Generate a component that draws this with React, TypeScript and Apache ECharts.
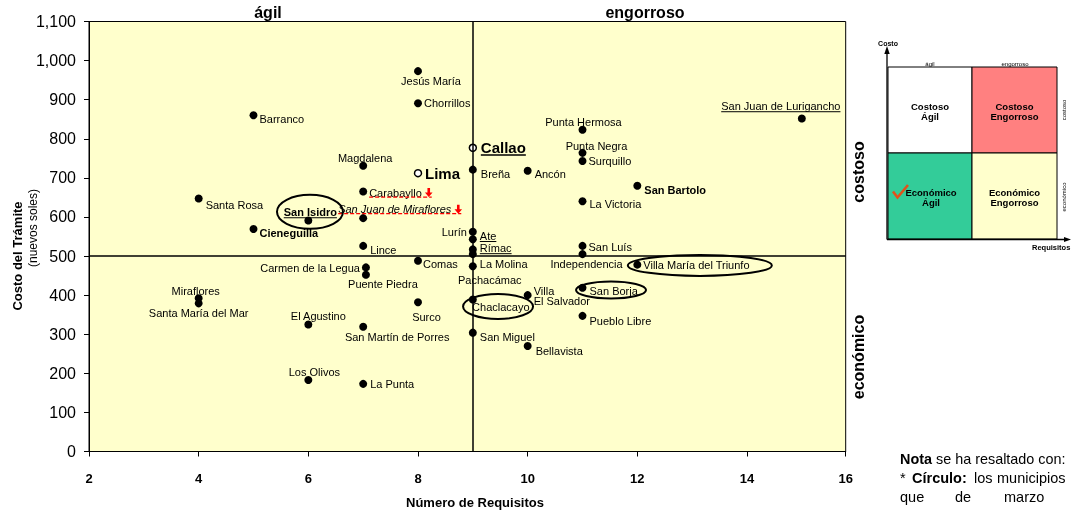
import React, { useEffect, useRef } from "react";
import * as echarts from "echarts";

const FONT = '"Liberation Sans", Arial, sans-serif';

// ---- data ----
const NAMES = [
  "Jesús María", "Chorrillos", "Barranco", "Magdalena", "Carabayllo", "Santa Rosa",
  "San Isidro", "San Juan de Miraflores", "Cieneguilla", "Lince", "Lurín", "Ate",
  "Rímac", "Pachacámac", "La Molina", "Chaclacayo", "San Miguel", "Comas",
  "Carmen de la Legua", "Puente Piedra", "Miraflores", "Santa María del Mar",
  "El Agustino", "San Martín de Porres", "Surco", "Los Olivos", "La Punta",
  "Breña", "Ancón", "Punta Hermosa", "Punta Negra", "Surquillo", "San Bartolo",
  "La Victoria", "San Juan de Lurigancho", "San Luís", "Independencia",
  "Villa María del Triunfo", "San Borja", "Villa El Salvador", "Pueblo Libre", "Bellavista",
];
const REQUISITOS = [
  8, 8, 5, 7, 7, 4,
  6, 7, 5, 7, 9, 9,
  9, 9, 9, 9, 9, 8,
  7.05, 7.05, 4, 4,
  6, 7, 8, 6, 7,
  9, 10, 11, 11, 11, 12,
  11, 15, 11, 11,
  12, 11, 10, 11, 10,
];
const COSTOS = [
  973, 891, 860, 731, 665, 647,
  591, 597, 569, 526, 562, 543,
  517, 505, 474, 389, 304, 488,
  471, 452, 392, 379,
  325, 319, 382, 183, 173,
  721, 718, 823, 764, 743, 680,
  640, 852, 526, 505,
  478, 419, 400, 347, 270,
];
const OPEN_NAMES = ["Lima", "Callao"];
const OPEN_REQUISITOS = [8, 9];
const OPEN_COSTOS = [712, 777];

const X_SPLIT = 9;
const Y_SPLIT = 500;
const X_TICKS_MAX_LABEL = "16";

// circled districts (centre of ellipse in data units)
const CIRCLED = [
  { x: 6.03, y: 613, rx: 33, ry: 17 },
  { x: 9.46, y: 371, rx: 35, ry: 12.5 },
  { x: 11.52, y: 413, rx: 35, ry: 8.5 },
  { x: 13.14, y: 476, rx: 72, ry: 10.5 },
];

// ---- label layout (align, dx, dy) ----
const LAYOUT: Record<string, [string, number, number]> = {
  "Jesús María": ["center", 13, 10],
  "Chorrillos": ["left", 6, 0],
  "Barranco": ["left", 6, 4],
  "Magdalena": ["center", 2, -8],
  "Carabayllo": ["left", 6, 1],
  "Santa Rosa": ["left", 7, 6],
  "San Isidro": ["center", 2, -8],
  "San Juan de Miraflores": ["left", -25, -9],
  "Cieneguilla": ["left", 6, 4],
  "Lince": ["left", 7, 4],
  "Lurín": ["right", -6, 0],
  "Ate": ["left", 7, -3],
  "Rímac": ["left", 7, -1],
  "Pachacámac": ["center", 17, 26],
  "La Molina": ["left", 7, -2],
  "Chaclacayo": ["center", 28, 8],
  "San Miguel": ["left", 7, 4],
  "Comas": ["left", 5, 3],
  "Carmen de la Legua": ["right", -6, 1],
  "Puente Piedra": ["center", 17, 9],
  "Miraflores": ["center", -3, -7],
  "Santa María del Mar": ["center", 0, 10],
  "El Agustino": ["center", 10, -8],
  "San Martín de Porres": ["center", 34, 10],
  "Surco": ["center", 8.5, 15],
  "Los Olivos": ["center", 6, -8],
  "La Punta": ["left", 7, 0],
  "Breña": ["left", 8, 4],
  "Ancón": ["left", 7, 3],
  "Punta Hermosa": ["center", 1, -8],
  "Punta Negra": ["center", 14, -7],
  "Surquillo": ["left", 6, 0],
  "San Bartolo": ["left", 7, 4],
  "La Victoria": ["left", 7, 3],
  "San Juan de Lurigancho": ["center", -21, -12],
  "San Luís": ["left", 6, 1],
  "Independencia": ["center", 4, 10],
  "Villa María del Triunfo": ["left", 6, 0],
  "San Borja": ["left", 7, 3],
  "Villa El Salvador": ["left", 6, 1],
  "Pueblo Libre": ["left", 7, 5],
  "Bellavista": ["left", 8, 5],
  "Lima": ["left", 7, 0],
  "Callao": ["left", 8, 0],
};
const BOLD = new Set(["San Isidro", "Cieneguilla", "San Bartolo", "Lima", "Callao"]);
const BIG = new Set(["Lima", "Callao"]);
const ITALIC = new Set(["San Juan de Miraflores"]);
const UNDERLINED = new Set(["Callao", "Ate", "Rímac", "San Juan de Lurigancho", "San Isidro"]);
const FLAGGED = new Set(["Carabayllo", "San Juan de Miraflores"]);
const TEXT_OVERRIDE: Record<string, string> = { "Villa El Salvador": "Villa\nEl Salvador" };

function labelFor(name: string) {
  const [align, dx, dy] = LAYOUT[name] || ["left", 6, 0];
  return {
    show: true,
    position: "inside",
    align,
    verticalAlign: "middle",
    offset: [dx, dy],
    formatter: TEXT_OVERRIDE[name] || name,
    fontFamily: FONT,
    fontSize: BIG.has(name) ? 15 : 11,
    fontWeight: BOLD.has(name) ? "bold" : "normal",
    fontStyle: ITALIC.has(name) ? "italic" : "normal",
    lineHeight: 10,
    color: "#000",
    textBorderWidth: 0,
  };
}

let measureCtx: CanvasRenderingContext2D | null = null;
function measure(text: string, size: number, weight: string, style: string) {
  if (!measureCtx) measureCtx = document.createElement("canvas").getContext("2d");
  if (!measureCtx) return text.length * size * 0.5;
  measureCtx.font = `${style} ${weight} ${size}px "Liberation Sans"`;
  return measureCtx.measureText(text).width;
}

function txt(x: number, y: number, text: string, size: number, opts: any = {}) {
  return {
    type: "text",
    x,
    y,
    rotation: opts.rotation || 0,
    z: 100,
    style: {
      text,
      fontFamily: FONT,
      fontSize: size,
      fontWeight: opts.weight || "normal",
      fill: opts.fill || "#000",
      align: opts.align || "center",
      verticalAlign: "middle",
      lineHeight: opts.lineHeight,
      rich: opts.rich,
    },
  };
}

export default function App() {
  const ref = useRef<HTMLDivElement>(null);
  useEffect(() => {
    if (!ref.current) return;
    const chart = echarts.init(ref.current, null, { renderer: "svg" });
    const option: any = {
      animation: false,
      textStyle: { fontFamily: FONT },
      grid: {
        left: 89,
        right: 225.3,
        top: 21.5,
        bottom: 61.5,
        show: true,
        backgroundColor: "#FFFFCC",
        borderColor: "#000",
        borderWidth: 1,
      },
      xAxis: {
        type: "value",
        min: 2,
        max: 15.8,
        interval: 2,
        axisLine: { show: true, lineStyle: { color: "#000", width: 1 } },
        axisTick: { show: true, length: 5, lineStyle: { color: "#000" } },
        splitLine: { show: false },
        axisLabel: {
          color: "#000",
          fontSize: 13,
          fontWeight: "bold",
          fontFamily: FONT,
          margin: 20,
          formatter: (v: number) => (v > 15 ? X_TICKS_MAX_LABEL : String(v)),
        },
      },
      yAxis: {
        type: "value",
        min: 0,
        max: 1100,
        interval: 100,
        axisLine: { show: true, lineStyle: { color: "#000", width: 1 } },
        axisTick: { show: true, length: 5, lineStyle: { color: "#000" } },
        splitLine: { show: false },
        axisLabel: {
          color: "#000",
          fontSize: 16,
          fontFamily: FONT,
          margin: 13,
          formatter: (v: number) => v.toLocaleString("en-US"),
        },
      },
      series: [
        {
          type: "scatter",
          symbol: "circle",
          symbolSize: 8,
          itemStyle: { color: "#000", opacity: 1 },
          data: NAMES.map((n, i) => ({ name: n, value: [REQUISITOS[i], COSTOS[i]], label: labelFor(n) })),
          markLine: {
            silent: true,
            symbol: "none",
            label: { show: false },
            lineStyle: { color: "#000", width: 1.5, type: "solid", opacity: 1 },
            data: [{ xAxis: X_SPLIT }, { yAxis: Y_SPLIT }],
          },
        },
        {
          type: "scatter",
          symbol: "circle",
          symbolSize: 7,
          itemStyle: { color: "#fff", borderColor: "#000", borderWidth: 1.5, opacity: 1 },
          data: OPEN_NAMES.map((n, i) => ({ name: n, value: [OPEN_REQUISITOS[i], OPEN_COSTOS[i]], label: labelFor(n) })),
        },
      ],
    };
    chart.setOption(option);

    const els: any[] = [];
    // axis titles and quadrant names
    els.push(txt(17, 256, "Costo del Trámite", 13, { weight: "bold", rotation: Math.PI / 2 }));
    els.push(txt(33, 228, "(nuevos soles)", 12, { rotation: Math.PI / 2 }));
    els.push(txt(475, 502, "Número de Requisitos", 13, { weight: "bold" }));
    els.push(txt(268, 12, "ágil", 16, { weight: "bold" }));
    els.push(txt(645, 12, "engorroso", 16, { weight: "bold" }));
    els.push(txt(858, 172, "costoso", 16, { weight: "bold", rotation: Math.PI / 2 }));
    els.push(txt(858, 357, "económico", 16, { weight: "bold", rotation: Math.PI / 2 }));

    // underlines and red flags
    const allNames = [...NAMES, ...OPEN_NAMES];
    const allX = [...REQUISITOS, ...OPEN_REQUISITOS];
    const allY = [...COSTOS, ...OPEN_COSTOS];
    allNames.forEach((n, i) => {
      if (!UNDERLINED.has(n) && !FLAGGED.has(n)) return;
      const p = chart.convertToPixel({ gridIndex: 0 }, [allX[i], allY[i]]) as number[];
      const [align, dx, dy] = LAYOUT[n];
      const size = BIG.has(n) ? 15 : 11;
      const w = measure(n, size, BOLD.has(n) ? "bold" : "normal", ITALIC.has(n) ? "italic" : "normal");
      const ax = p[0] + dx;
      const x0 = align === "left" ? ax : align === "center" ? ax - w / 2 : ax - w;
      const cy = p[1] + dy;
      if (UNDERLINED.has(n)) {
        const uy = cy + size * 0.48;
        els.push({ type: "line", z: 100, shape: { x1: x0, y1: uy, x2: x0 + w, y2: uy }, style: { stroke: "#000", lineWidth: BIG.has(n) ? 1.5 : 1 } });
      }
      if (FLAGGED.has(n)) {
        const fy = cy + 4.5;
        const axc = x0 + w + 7;
        els.push({ type: "line", z: 100, shape: { x1: x0, y1: fy, x2: axc + 3, y2: fy }, style: { stroke: "#FF0000", lineWidth: 1.3, lineDash: [4, 2] } });
        els.push({
          type: "polygon",
          z: 101,
          shape: {
            points: [
              [axc - 1.3, fy - 9], [axc + 1.3, fy - 9], [axc + 1.3, fy - 4.5], [axc + 3.8, fy - 4.5],
              [axc, fy], [axc - 3.8, fy - 4.5], [axc - 1.3, fy - 4.5],
            ],
          },
          style: { fill: "#FF0000" },
        });
      }
    });

    // ellipses around highlighted districts
    CIRCLED.forEach((c) => {
      const p = chart.convertToPixel({ gridIndex: 0 }, [c.x, c.y]) as number[];
      els.push({ type: "ellipse", z: 100, shape: { cx: p[0], cy: p[1], rx: c.rx, ry: c.ry }, style: { fill: "none", stroke: "#000", lineWidth: 2 } });
    });

    // ---- small explanatory quadrant diagram ----
    const L = 888, M = 972, R = 1057, T = 67, MY = 153, B = 239;
    const box = (x: number, y: number, w: number, h: number, fill: string) => ({
      type: "rect", z: 100, shape: { x, y, width: w, height: h }, style: { fill, stroke: "#000", lineWidth: 1 },
    });
    els.push(box(L, T, M - L, MY - T, "#FFFFFF"));
    els.push(box(M, T, R - M, MY - T, "#FF8080"));
    els.push(box(L, MY, M - L, B - MY, "#33CC99"));
    els.push(box(M, MY, R - M, B - MY, "#FFFFCC"));
    els.push({ type: "line", z: 101, shape: { x1: 887, y1: 50, x2: 887, y2: B + 0.5 }, style: { stroke: "#000", lineWidth: 1.3 } });
    els.push({ type: "polygon", z: 101, shape: { points: [[884.3, 54], [887, 46], [889.7, 54]] }, style: { fill: "#000" } });
    els.push({ type: "line", z: 101, shape: { x1: 887, y1: B + 0.5, x2: 1066, y2: B + 0.5 }, style: { stroke: "#000", lineWidth: 1.3 } });
    els.push({ type: "polygon", z: 101, shape: { points: [[1064, 237], [1071, 239.5], [1064, 242]] }, style: { fill: "#000" } });
    els.push(txt(888, 43, "Costo", 7, { weight: "bold" }));
    els.push(txt(1032, 247.5, "Requisitos", 7.5, { weight: "bold", align: "left" }));
    els.push(txt(930, 63.5, "ágil", 6));
    els.push(txt(1015, 63.5, "engorroso", 6));
    els.push(txt(1064, 110, "costoso", 6, { rotation: Math.PI / 2 }));
    els.push(txt(1064, 197, "económico", 6, { rotation: Math.PI / 2 }));
    els.push(txt(930, 111, "Costoso\nÁgil", 9.5, { weight: "bold", lineHeight: 10 }));
    els.push(txt(1014.5, 111, "Costoso\nEngorroso", 9.5, { weight: "bold", lineHeight: 10 }));
    els.push(txt(931, 197.5, "Económico\nÁgil", 9.5, { weight: "bold", lineHeight: 10 }));
    els.push(txt(1014.5, 197.5, "Económico\nEngorroso", 9.5, { weight: "bold", lineHeight: 10 }));
    els.push({
      type: "polyline", z: 102,
      shape: { points: [[893, 191.5], [897.5, 197.5], [908, 185]] },
      style: { stroke: "#E0521B", lineWidth: 2.6, fill: "none" },
    });

    // ---- note ----
    const rich = { b: { fontWeight: "bold", fontSize: 14.4, fontFamily: FONT } };
    els.push(txt(900, 459, "{b|Nota} se ha resaltado con:", 14.4, { align: "left", rich }));
    els.push(txt(900, 478, "*", 14.5, { align: "left" }));
    els.push(txt(912, 478, "Círculo:", 14.5, { align: "left", weight: "bold" }));
    els.push(txt(974, 478, "los", 14.5, { align: "left" }));
    els.push(txt(997, 478, "municipios", 14.5, { align: "left" }));
    els.push(txt(900, 497, "que", 14.5, { align: "left" }));
    els.push(txt(955, 497, "de", 14.5, { align: "left" }));
    els.push(txt(1004, 497, "marzo", 14.5, { align: "left" }));

    chart.setOption({ graphic: { elements: els } });
    return () => chart.dispose();
  }, []);
  return <div ref={ref} style={{ position: "fixed", left: 0, top: 0, width: 1071, height: 513 }} />;
}
